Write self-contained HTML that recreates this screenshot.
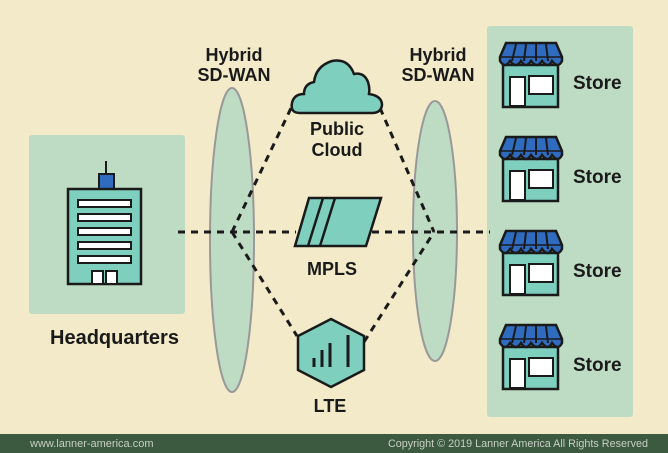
<!DOCTYPE html>
<html><head><meta charset="utf-8"><style>
html,body{margin:0;padding:0;background:#f2eac8}
svg{display:block}
text{font-family:"Liberation Sans",sans-serif;font-weight:bold;fill:#1a1a1a}
</style></head><body>
<svg width="668" height="453" viewBox="0 0 668 453" xmlns="http://www.w3.org/2000/svg">
<defs>
<g id="store">
  <rect x="3" y="22" width="55" height="42" fill="#7fcfbf" stroke="#1a1a1a" stroke-width="2.5"/>
  <rect x="10" y="34" width="15" height="29" fill="#fff" stroke="#1a1a1a" stroke-width="2"/>
  <rect x="29" y="33" width="24" height="18" fill="#fff" stroke="#1a1a1a" stroke-width="2"/>
  <path d="M6 0 H56 L62 14 V18 Q58 26 52 18 Q48 26 42 18 Q37 26 31 18 Q26 26 21 18 Q16 26 10 18 Q5 26 0 18 V14 Z" fill="#2f6cc0" stroke="#1a1a1a" stroke-width="2.5"/>
  <path d="M16 1 L12 18 M26 1 L24 18 M36 1 L36 18 M46 1 L48 18" stroke="#1a1a1a" stroke-width="2"/>
  <path d="M0 14 H62" stroke="#1a1a1a" stroke-width="1.5"/>
</g>
</defs>
<rect width="668" height="453" fill="#f2eac8"/>
<rect x="29" y="135" width="156" height="179" rx="3" fill="#bedcc3"/>
<rect x="487" y="26" width="146" height="391" rx="3" fill="#bedcc3"/>
<ellipse cx="232" cy="240" rx="22" ry="152" fill="#bedcc3" stroke="#999" stroke-width="2"/>
<ellipse cx="435" cy="231" rx="22" ry="130" fill="#bedcc3" stroke="#999" stroke-width="2"/>
<g stroke="#1a1a1a" stroke-width="3" stroke-dasharray="7,6" fill="none">
  <line x1="178" y1="232" x2="296" y2="232"/>
  <line x1="372" y1="232" x2="490" y2="232"/>
  <line x1="232" y1="232" x2="293" y2="104"/>
  <line x1="232" y1="232" x2="297" y2="336"/>
  <line x1="380" y1="108" x2="434" y2="232"/>
  <line x1="364" y1="342" x2="434" y2="232"/>
</g>
<line x1="106" y1="161" x2="106" y2="174" stroke="#1a1a1a" stroke-width="2"/>
<rect x="99" y="174" width="15" height="15" fill="#2f6cc0" stroke="#1a1a1a" stroke-width="2"/>
<rect x="68" y="189" width="73" height="95" fill="#7fcfbf" stroke="#1a1a1a" stroke-width="2.5"/>
<g fill="#fff" stroke="#1a1a1a" stroke-width="2">
<rect x="78" y="200" width="53" height="7"/><rect x="78" y="214" width="53" height="7"/>
<rect x="78" y="228" width="53" height="7"/><rect x="78" y="242" width="53" height="7"/>
<rect x="78" y="256" width="53" height="7"/>
<rect x="92" y="271" width="11" height="13"/><rect x="106" y="271" width="11" height="13"/>
</g>
<text x="50" y="344" font-size="20">Headquarters</text>
<path d="M300 113 Q290 113 292 103 Q294 94 304 94 Q304 84 314 82 Q316 66 332 61 Q348 58 354 74 Q364 72 368 82 Q370 88 369 94 Q382 96 382 105 Q381 113 372 113 Z" fill="#7fcfbf" stroke="#1a1a1a" stroke-width="2.5"/>
<text x="337" y="135" font-size="18" text-anchor="middle">Public</text>
<text x="337" y="156" font-size="18" text-anchor="middle">Cloud</text>
<polygon points="309,198 381,198 366,246 295,246" fill="#7fcfbf" stroke="#1a1a1a" stroke-width="2.5"/>
<path d="M323 198 L308 246 M335 198 L320 246" stroke="#1a1a1a" stroke-width="2.5"/>
<text x="332" y="275" font-size="18" text-anchor="middle">MPLS</text>
<polygon points="331,319 364,336 364,370 331,387 298,370 298,336" fill="#7fcfbf" stroke="#1a1a1a" stroke-width="2.5"/>
<path d="M314 367 V358 M322 367 V350 M330 367 V343 M348 367 V335" stroke="#1a1a1a" stroke-width="3"/>
<text x="330" y="412" font-size="18" text-anchor="middle">LTE</text>
<text x="234" y="61" font-size="18" text-anchor="middle">Hybrid</text>
<text x="234" y="81" font-size="18" text-anchor="middle">SD-WAN</text>
<text x="438" y="61" font-size="18" text-anchor="middle">Hybrid</text>
<text x="438" y="81" font-size="18" text-anchor="middle">SD-WAN</text>
<use href="#store" x="500" y="43"/>
<use href="#store" x="500" y="137"/>
<use href="#store" x="500" y="231"/>
<use href="#store" x="500" y="325"/>
<text x="573" y="89" font-size="19">Store</text>
<text x="573" y="183" font-size="19">Store</text>
<text x="573" y="277" font-size="19">Store</text>
<text x="573" y="371" font-size="19">Store</text>
<rect x="0" y="434" width="668" height="19" fill="#3c5a3f"/>
<text x="30" y="447" font-size="11" style="font-weight:normal;fill:#c8cfc4">www.lanner-america.com</text>
<text x="648" y="447" font-size="10.8" text-anchor="end" style="font-weight:normal;fill:#c8cfc4">Copyright © 2019 Lanner America All Rights Reserved</text>
</svg>
</body></html>
